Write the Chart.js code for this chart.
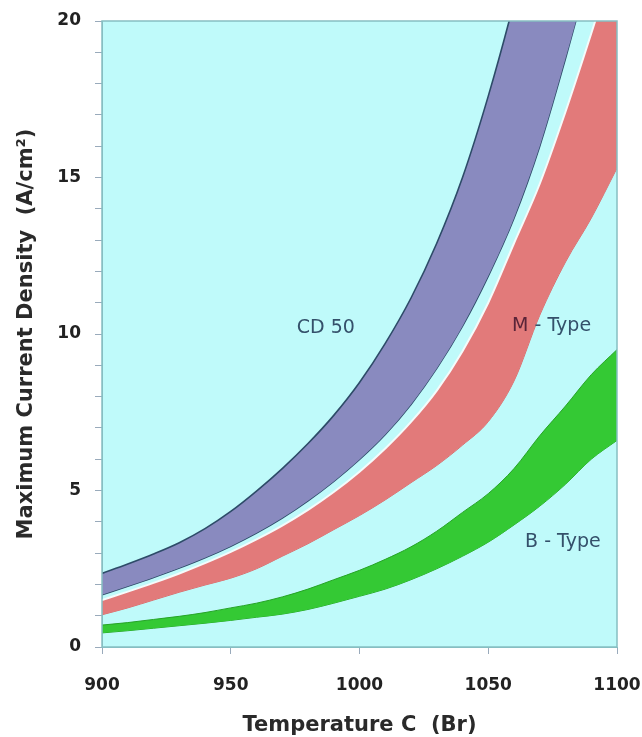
<!DOCTYPE html>
<html><head><meta charset="utf-8">
<script src="https://cdn.jsdelivr.net/npm/chart.js@4.4.1/dist/chart.umd.min.js"></script>
<style>html,body{margin:0;padding:0;background:#fff}</style>
</head><body>
<canvas id="c" width="642" height="737"></canvas>
<script>
// Temperature C (Br)
const temps = [900,910,920,930,940,950,960,970,980,990,1000,1010,1020,1030,1040,1050,1060,1070,1080,1090,1100];
// CD 50 band (upper / lower edge), A/cm2
const cd50Upper = [2.35,2.65,2.97,3.33,3.78,4.33,4.98,5.7,6.5,7.4,8.45,9.7,11.15,12.9,15.0,17.6,20.6,24.0,27.8,32.0,36.5];
const cd50Lower = [1.67,1.94,2.22,2.52,2.85,3.22,3.64,4.12,4.67,5.29,5.99,6.79,7.75,8.9,10.25,11.85,13.7,16.0,18.8,21.8,25.0];
// M - Type band
const mUpper = [1.5,1.77,2.05,2.35,2.68,3.04,3.44,3.88,4.38,4.95,5.6,6.34,7.19,8.19,9.45,11.0,12.9,14.8,17.1,19.6,22.2];
const mLower = [1.03,1.25,1.5,1.75,1.98,2.2,2.5,2.9,3.3,3.75,4.2,4.7,5.25,5.8,6.45,7.2,8.5,10.6,12.3,13.7,15.3];
// B - Type band
const bUpper = [0.7,0.78,0.88,0.98,1.1,1.25,1.4,1.6,1.85,2.15,2.45,2.8,3.2,3.7,4.3,4.9,5.7,6.75,7.7,8.7,9.5];
const bLower = [0.45,0.52,0.6,0.68,0.76,0.85,0.95,1.05,1.2,1.4,1.62,1.85,2.15,2.5,2.9,3.35,3.9,4.5,5.2,6.0,6.6];
// Tick labels
const xTicks = [900,950,1000,1050,1100];
const yTickLabels = ['0','5','10','15','20'];
// Band labels
const bandLabelNames = ['CD 50','M - Type','B - Type'];
const bandLabelX = [986.9,1074.6,1079];
const bandLabelY = [10.2,10.25,3.36];

const pts = arr => temps.map((t,i)=>({x:t,y:arr[i]}));

const bgPlugin = {
  id:'bg',
  beforeDraw(chart){
    const {ctx, chartArea:a} = chart;
    ctx.save(); ctx.fillStyle='#bffafa';
    ctx.fillRect(a.left,a.top,a.right-a.left,a.bottom-a.top); ctx.restore();
  },
  afterDatasetsDraw(chart){
    const {ctx, chartArea:a} = chart;
    ctx.save(); ctx.strokeStyle='#86bfc2'; ctx.lineWidth=1.5;
    ctx.strokeRect(a.left,a.top,a.right-a.left,a.bottom-a.top); ctx.restore();
  },
  afterDraw(chart){
    const {ctx, scales:{x,y}} = chart;
    ctx.save();
    ctx.font = '19px "DejaVu Sans"';
    ctx.textBaseline='middle';
    ctx.textAlign='left';
    bandLabelNames.forEach((name,i)=>{
      const px = x.getPixelForValue(bandLabelX[i]);
      const py = y.getPixelForValue(bandLabelY[i]);
      const w = ctx.measureText(name).width;
      const sx = px - w/2;
      if (name.startsWith('M')) {
        ctx.fillStyle='#5a2438';
        ctx.fillText('M', sx, py);
        const mw = ctx.measureText('M').width;
        ctx.fillStyle='#34506a';
        ctx.fillText(name.slice(1), sx+mw, py);
      } else {
        ctx.fillStyle='#34506a';
        ctx.fillText(name, sx, py);
      }
    });
    ctx.restore();
  }
};

const tickFont = {family:'DejaVu Sans', weight:'bold', size:17};
const titleFont = {family:'DejaVu Sans', weight:'bold', size:21, lineHeight:1};

new Chart(document.getElementById('c'), {
  type:'line',
  data:{
    datasets:[
      {data:pts(cd50Upper), borderColor:'#2d4b68', borderWidth:1.6, backgroundColor:'#898abf', fill:'+1'},
      {data:pts(cd50Lower), borderColor:'#2d4b68', borderWidth:1.6, fill:false},
      {data:pts(mUpper), borderColor:'#f4fbfb', borderWidth:2, backgroundColor:'#e27a7a', fill:'+1'},
      {data:pts(mLower), borderColor:'#d66a6a', borderWidth:1, fill:false},
      {data:pts(bUpper), borderColor:'#26a326', borderWidth:1, backgroundColor:'#34c934', fill:'+1'},
      {data:pts(bLower), borderColor:'#26a326', borderWidth:1, fill:false}
    ].map(d=>Object.assign({pointRadius:0, cubicInterpolationMode:'monotone', clip:0}, d))
  },
  options:{
    responsive:false, animation:false,
    layout:{padding:{top:21, right:25, left:0, bottom:0}},
    plugins:{legend:{display:false}, tooltip:{enabled:false}},
    scales:{
      x:{
        type:'linear', min:900, max:1100,
        afterBuildTicks(s){ s.ticks = xTicks.map(v=>({value:v})); },
        ticks:{font:tickFont, color:'#222', padding:21, maxRotation:0, callback:(v)=>String(v)},
        grid:{drawOnChartArea:false, drawTicks:true, tickLength:7, color:'#9ab'},
        border:{display:true, color:'#86bfc2'},
        title:{display:true, text:'Temperature C  (Br)', font:titleFont, color:'#2a2a2a', padding:{top:0,bottom:1}},
        afterFit(s){ s.height = 90; s.paddingLeft = 0; s.paddingRight = 0; }
      },
      y:{
        min:0, max:20,
        ticks:{stepSize:1, autoSkip:false, font:tickFont, color:'#222', padding:14,
          callback:(v)=> (v%5===0 ? yTickLabels[v/5] : '')},
        grid:{drawOnChartArea:false, drawTicks:true, tickLength:7, color:'#9ab'},
        border:{display:true, color:'#86bfc2'},
        title:{display:true, text:'Maximum Current Density  (A/cm²)', font:titleFont, color:'#2a2a2a', padding:{top:16,bottom:0}},
        afterFit(s){ s.width = 102; s.paddingTop = 0; s.paddingBottom = 0; }
      }
    }
  },
  plugins:[bgPlugin]
});
</script>
</body></html>
